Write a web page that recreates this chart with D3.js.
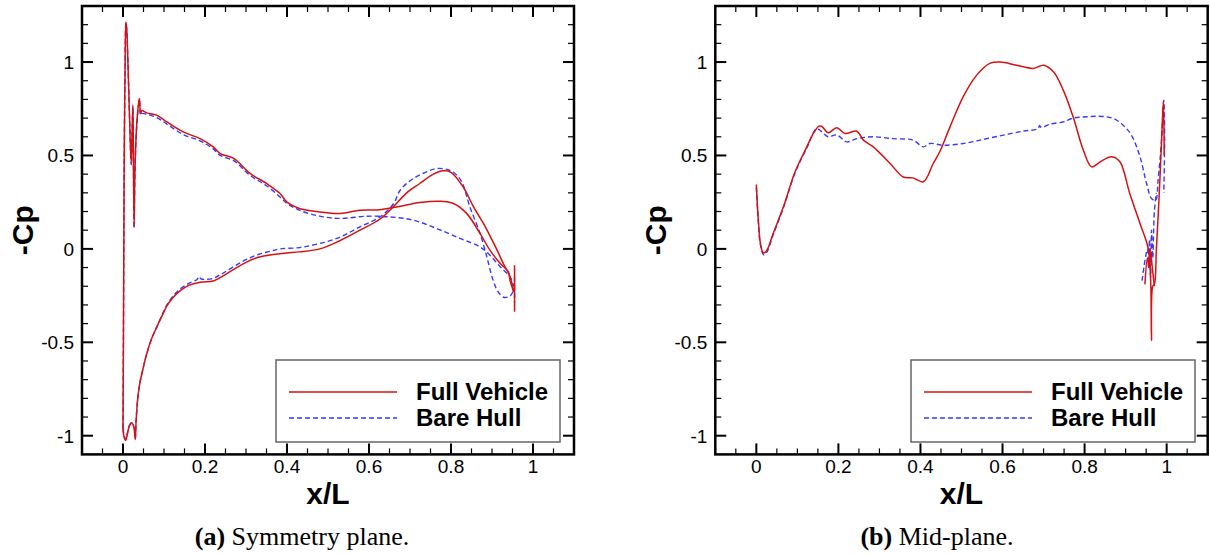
<!DOCTYPE html>
<html>
<head>
<meta charset="utf-8">
<script src="https://cdn.jsdelivr.net/npm/d3@7"></script>
<style>
   body { margin: 0; background: #fff; }
   .tick-label { font-family: "Liberation Sans", Arial, Helvetica, sans-serif; font-size: 19px; fill: #000; }
   .axis-title { font-family: "Liberation Sans", Arial, Helvetica, sans-serif; font-size: 30px; font-weight: bold; fill: #000; }
   .legend { font-family: "Liberation Sans", Arial, Helvetica, sans-serif; font-size: 24px; font-weight: bold; fill: #000; }
   .caption { font-family: "Liberation Serif", "Times New Roman", serif; font-size: 26px; fill: #000; }
</style>
</head>
<body>
<div id="chart"></div>
<script>
const width = 1210;
const height = 555;

// tick values and labels (shared by both panels)
const xTicks = [0, 0.2, 0.4, 0.6, 0.8, 1];
const xTickLabels = ["0", "0.2", "0.4", "0.6", "0.8", "1"];
const yTicks = [-1, -0.5, 0, 0.5, 1];
const yTickLabels = ["-1", "-0.5", "0", "0.5", "1"];

const seriesNames = ["Full Vehicle", "Bare Hull"];

// (a) symmetry plane, [x/L, -Cp]
const symFullUpper = [[0.000,-0.97],[0.001,-0.5],[0.002,0.0],[0.003,0.5],[0.005,0.95],[0.007,1.215],[0.009,1.18],[0.012,1.0],[0.016,0.7],[0.020,0.46],[0.022,0.6],[0.024,0.77],[0.025,0.6],[0.027,0.12],[0.029,0.4],[0.033,0.65],[0.038,0.78],[0.040,0.805],[0.043,0.725],[0.046,0.74],[0.058,0.728],[0.082,0.716],[0.107,0.68],[0.147,0.626],[0.188,0.59],[0.22,0.546],[0.237,0.51],[0.27,0.484],[0.31,0.404],[0.35,0.35],[0.383,0.296],[0.40,0.25],[0.43,0.216],[0.48,0.198],[0.53,0.19],[0.578,0.207],[0.627,0.21],[0.676,0.228],[0.724,0.248],[0.773,0.255],[0.806,0.243],[0.838,0.19],[0.871,0.082],[0.895,-0.007],[0.92,-0.078],[0.94,-0.123],[0.944,-0.17],[0.953,-0.23]];
const symFullLower = [[0.000,-0.97],[0.003,-1.01],[0.006,-1.025],[0.010,-1.0],[0.015,-0.95],[0.021,-0.93],[0.026,-0.95],[0.029,-1.0],[0.030,-1.02],[0.032,-0.92],[0.036,-0.8],[0.041,-0.72],[0.050,-0.63],[0.058,-0.56],[0.070,-0.48],[0.082,-0.42],[0.095,-0.36],[0.107,-0.305],[0.12,-0.265],[0.139,-0.225],[0.16,-0.195],[0.188,-0.178],[0.22,-0.172],[0.24,-0.15],[0.27,-0.11],[0.30,-0.072],[0.33,-0.045],[0.367,-0.03],[0.40,-0.022],[0.43,-0.016],[0.48,0.0],[0.53,0.045],[0.578,0.10],[0.627,0.16],[0.659,0.225],[0.692,0.30],[0.724,0.35],[0.757,0.40],[0.78,0.418],[0.80,0.41],[0.83,0.33],[0.855,0.225],[0.879,0.136],[0.895,0.07],[0.911,0.0],[0.928,-0.08],[0.944,-0.15],[0.953,-0.23]];
const symFullTail = [[0.955,-0.087],[0.955,-0.337]];
const symBareUpper = [[0.000,-0.96],[0.001,-0.5],[0.002,0.0],[0.003,0.5],[0.005,0.95],[0.007,1.21],[0.009,1.17],[0.012,1.0],[0.016,0.7],[0.020,0.45],[0.022,0.6],[0.024,0.76],[0.025,0.6],[0.027,0.11],[0.029,0.4],[0.033,0.64],[0.038,0.77],[0.040,0.795],[0.043,0.715],[0.046,0.725],[0.058,0.72],[0.082,0.703],[0.107,0.668],[0.147,0.612],[0.188,0.578],[0.22,0.535],[0.237,0.5],[0.27,0.472],[0.31,0.393],[0.35,0.338],[0.383,0.278],[0.40,0.243],[0.43,0.207],[0.48,0.175],[0.53,0.163],[0.594,0.175],[0.651,0.171],[0.708,0.154],[0.765,0.109],[0.822,0.056],[0.871,0.01],[0.895,-0.034],[0.92,-0.096],[0.944,-0.15],[0.953,-0.2]];
const symBareLower = [[0.000,-0.96],[0.003,-1.0],[0.006,-1.02],[0.010,-0.99],[0.015,-0.95],[0.021,-0.93],[0.026,-0.95],[0.029,-1.0],[0.030,-1.02],[0.032,-0.92],[0.036,-0.8],[0.041,-0.72],[0.050,-0.63],[0.058,-0.56],[0.070,-0.48],[0.082,-0.42],[0.095,-0.355],[0.107,-0.30],[0.12,-0.258],[0.139,-0.215],[0.16,-0.185],[0.18,-0.165],[0.186,-0.148],[0.19,-0.16],[0.20,-0.163],[0.22,-0.158],[0.24,-0.135],[0.27,-0.095],[0.30,-0.057],[0.33,-0.03],[0.36,-0.012],[0.383,0.0],[0.43,0.007],[0.48,0.029],[0.53,0.064],[0.578,0.118],[0.627,0.171],[0.66,0.243],[0.676,0.314],[0.708,0.377],[0.74,0.412],[0.765,0.43],[0.79,0.425],[0.806,0.41],[0.826,0.36],[0.846,0.225],[0.871,0.082],[0.887,-0.04],[0.903,-0.17],[0.915,-0.23],[0.93,-0.26],[0.945,-0.25],[0.953,-0.22]];
const symBareTail = [[0.955,-0.15],[0.955,-0.29]];

// (b) mid-plane, [x/L, -Cp]
const midFull = [[0.0,0.345],[0.005,0.15],[0.010,0.03],[0.017,-0.022],[0.025,-0.01],[0.041,0.082],[0.066,0.225],[0.094,0.41],[0.123,0.546],[0.139,0.618],[0.153,0.657],[0.16,0.655],[0.175,0.621],[0.196,0.648],[0.216,0.618],[0.245,0.63],[0.261,0.582],[0.285,0.546],[0.326,0.457],[0.358,0.385],[0.382,0.38],[0.407,0.359],[0.431,0.457],[0.447,0.52],[0.472,0.653],[0.504,0.814],[0.537,0.93],[0.569,0.993],[0.594,1.0],[0.634,0.983],[0.675,0.966],[0.70,0.983],[0.724,0.948],[0.748,0.85],[0.772,0.707],[0.797,0.528],[0.817,0.439],[0.838,0.466],[0.866,0.493],[0.886,0.466],[0.91,0.297],[0.935,0.136],[0.955,0.002],[0.961,-0.17],[0.963,-0.49],[0.966,-0.2],[0.970,-0.19],[0.975,0.0],[0.982,0.3],[0.988,0.6],[0.992,0.79],[0.994,0.5]];
const midFullTail = [[0.947,-0.19],[0.953,-0.05],[0.957,-0.1],[0.960,0.0],[0.965,-0.1],[0.970,-0.2]];
const midBare = [[0.0,0.33],[0.005,0.14],[0.010,0.02],[0.018,-0.032],[0.025,-0.02],[0.041,0.075],[0.066,0.22],[0.094,0.405],[0.123,0.54],[0.147,0.644],[0.16,0.625],[0.175,0.60],[0.196,0.61],[0.22,0.573],[0.245,0.59],[0.285,0.60],[0.334,0.59],[0.382,0.582],[0.407,0.546],[0.423,0.564],[0.456,0.555],[0.504,0.564],[0.553,0.586],[0.602,0.609],[0.65,0.63],[0.687,0.644],[0.69,0.66],[0.695,0.65],[0.716,0.668],[0.748,0.68],[0.772,0.70],[0.805,0.707],[0.837,0.71],[0.87,0.698],[0.894,0.662],[0.914,0.609],[0.935,0.493],[0.951,0.35],[0.963,0.27],[0.973,0.26],[0.979,0.368],[0.987,0.564],[0.993,0.796],[0.995,0.6],[0.993,0.3]];
const midBareTail = [[0.940,-0.17],[0.948,-0.05],[0.953,0.0],[0.956,-0.1],[0.958,0.05],[0.961,-0.15],[0.963,0.1],[0.966,-0.05],[0.970,0.2],[0.975,0.3]];

const redColor = "#d81010";
const blueColor = "#3838ff";

const svg = d3.select("#chart").append("svg")
   .attr("width", width)
   .attr("height", height);

svg.append("rect")
   .attr("width", width)
   .attr("height", height)
   .style("fill", "#fff");

const panels = [
   {
      left: 82, right: 574, top: 6, bottom: 454.4,
      full: [symFullUpper, symFullLower, symFullTail],
      bare: [symBareUpper, symBareLower, symBareTail],
      legend: { x: 276, y: 360, w: 284, h: 82 },
      tag: "(a)", caption: " Symmetry plane.", captionX: 302
   },
   {
      left: 715.3, right: 1207.7, top: 6, bottom: 454.4,
      full: [midFull, midFullTail],
      bare: [midBare, midBareTail],
      legend: { x: 911, y: 360, w: 284, h: 82 },
      tag: "(b)", caption: " Mid-plane.", captionX: 937
   }
];

panels.forEach(p => {
   const x = d3.scaleLinear().domain([-0.1, 1.1]).range([p.left, p.right]);
   const y = d3.scaleLinear().domain([-1.1, 1.3]).range([p.bottom, p.top]);
   const g = svg.append("g");

   const line = d3.line()
      .x(d => x(d[0]))
      .y(d => y(d[1]))
      .curve(d3.curveCatmullRom.alpha(0.5));

   const clip = "clip" + Math.round(p.left);
   svg.append("clipPath").attr("id", clip)
      .append("rect")
      .attr("x", p.left).attr("y", p.top)
      .attr("width", p.right - p.left).attr("height", p.bottom - p.top);

   const curves = g.append("g").attr("clip-path", "url(#" + clip + ")");

   p.bare.forEach(s => {
      curves.append("path")
         .attr("d", line(s))
         .style("fill", "none")
         .style("stroke", blueColor)
         .style("stroke-width", 1.4)
         .style("stroke-dasharray", "5,3");
   });
   p.full.forEach(s => {
      curves.append("path")
         .attr("d", line(s))
         .style("fill", "none")
         .style("stroke", redColor)
         .style("stroke-width", 1.5);
   });

   // ticks on all four sides, pointing inward
   const xMinor = d3.range(-0.05, 1.1, 0.05).filter(v => Math.abs(Math.round(v * 5) - v * 5) > 1e-6);
   const yMinor = d3.range(-1.0, 1.3, 0.1).filter(v => Math.abs(Math.round(v * 2) - v * 2) > 1e-6);

   const ticks = g.append("g").style("stroke", "#000");
   xMinor.forEach(v => {
      ticks.append("line").attr("x1", x(v)).attr("x2", x(v)).attr("y1", p.bottom).attr("y2", p.bottom - 6).style("stroke-width", 1.2);
      ticks.append("line").attr("x1", x(v)).attr("x2", x(v)).attr("y1", p.top).attr("y2", p.top + 6).style("stroke-width", 1.2);
   });
   xTicks.forEach(v => {
      ticks.append("line").attr("x1", x(v)).attr("x2", x(v)).attr("y1", p.bottom).attr("y2", p.bottom - 11).style("stroke-width", 2);
      ticks.append("line").attr("x1", x(v)).attr("x2", x(v)).attr("y1", p.top).attr("y2", p.top + 11).style("stroke-width", 2);
   });
   yMinor.forEach(v => {
      ticks.append("line").attr("y1", y(v)).attr("y2", y(v)).attr("x1", p.left).attr("x2", p.left + 6).style("stroke-width", 1.2);
      ticks.append("line").attr("y1", y(v)).attr("y2", y(v)).attr("x1", p.right).attr("x2", p.right - 6).style("stroke-width", 1.2);
   });
   yTicks.forEach(v => {
      ticks.append("line").attr("y1", y(v)).attr("y2", y(v)).attr("x1", p.left).attr("x2", p.left + 11).style("stroke-width", 2);
      ticks.append("line").attr("y1", y(v)).attr("y2", y(v)).attr("x1", p.right).attr("x2", p.right - 11).style("stroke-width", 2);
   });

   // frame
   g.append("rect")
      .attr("x", p.left).attr("y", p.top)
      .attr("width", p.right - p.left).attr("height", p.bottom - p.top)
      .style("fill", "none")
      .style("stroke", "#000")
      .style("stroke-width", 2.5);

   // tick labels
   xTicks.forEach((v, i) => {
      g.append("text")
         .attr("class", "tick-label")
         .attr("x", x(v))
         .attr("y", p.bottom + 19)
         .style("text-anchor", "middle")
         .text(xTickLabels[i]);
   });
   yTicks.forEach((v, i) => {
      g.append("text")
         .attr("class", "tick-label")
         .attr("x", p.left - 8)
         .attr("y", y(v) + 7)
         .style("text-anchor", "end")
         .text(yTickLabels[i]);
   });

   // axis titles
   g.append("text")
      .attr("class", "axis-title")
      .attr("x", (p.left + p.right) / 2)
      .attr("y", 504)
      .style("text-anchor", "middle")
      .text("x/L");
   g.append("text")
      .attr("class", "axis-title")
      .attr("transform", "translate(" + (p.left - 49) + "," + ((p.top + p.bottom) / 2) + ") rotate(-90)")
      .style("text-anchor", "middle")
      .text("-Cp");

   // legend
   const lg = p.legend;
   g.append("rect")
      .attr("x", lg.x).attr("y", lg.y)
      .attr("width", lg.w).attr("height", lg.h)
      .style("fill", "#fff")
      .style("stroke", "#666")
      .style("stroke-width", 1.5);
   const legendRows = [
      { name: seriesNames[0], color: redColor, dash: null, dy: 32 },
      { name: seriesNames[1], color: blueColor, dash: "5,3", dy: 58 }
   ];
   legendRows.forEach(r => {
      g.append("line")
         .attr("x1", lg.x + 13).attr("x2", lg.x + 121)
         .attr("y1", lg.y + r.dy).attr("y2", lg.y + r.dy)
         .style("stroke", r.color)
         .style("stroke-width", 1.5)
         .style("stroke-dasharray", r.dash);
      g.append("text")
         .attr("class", "legend")
         .attr("x", lg.x + 140)
         .attr("y", lg.y + r.dy + 8)
         .text(r.name);
   });

   // caption
   const cap = g.append("text")
      .attr("class", "caption")
      .attr("x", p.captionX)
      .attr("y", 545)
      .style("text-anchor", "middle");
   cap.append("tspan").style("font-weight", "bold").text(p.tag);
   cap.append("tspan").text(p.caption);
});
</script>
</body>
</html>
